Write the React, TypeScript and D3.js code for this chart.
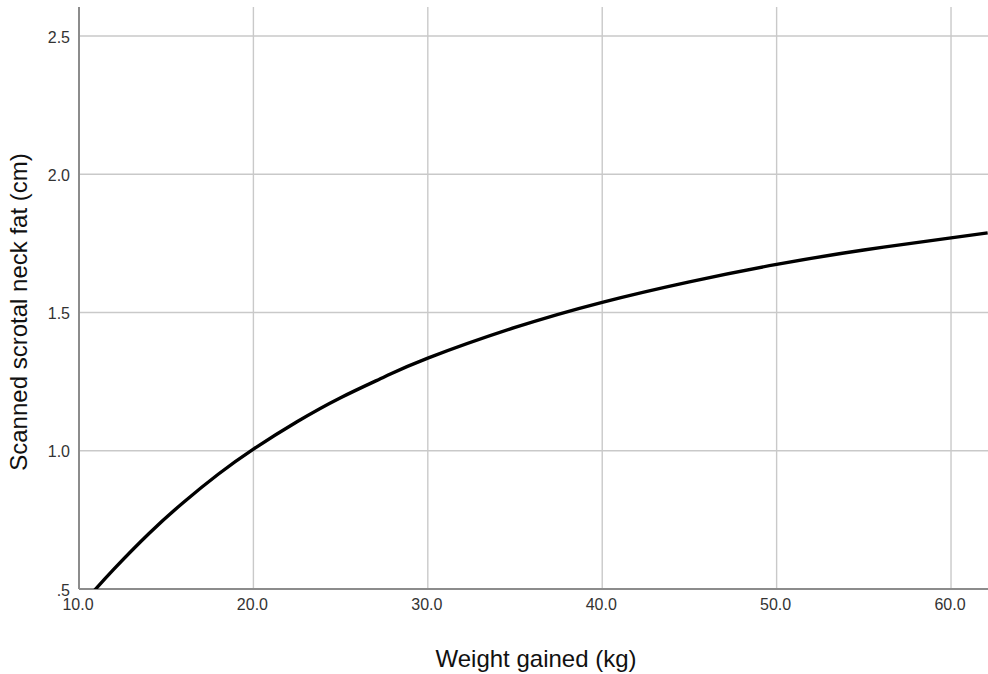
import React from "react";
import * as d3 from "d3";

// Fitted curve read at a set of weight-gain values
const weightGained = [10.9, 12, 14, 16, 18, 20, 22.5, 25, 27.5, 30, 35, 40, 45, 50, 55, 60, 62.1];
const neckFat = [0.496, 0.572, 0.7, 0.814, 0.916, 1.006, 1.105, 1.192, 1.267, 1.335, 1.446, 1.537, 1.611, 1.674, 1.726, 1.77, 1.788];

const xTicks = [10, 20, 30, 40, 50, 60];
const yTicks = [0.5, 1.0, 1.5, 2.0, 2.5];

const xLabel = "Weight gained (kg)";
const yLabel = "Scanned scrotal neck fat (cm)";

const W = 988;
const H = 674;
const left = 79;
const right = 988;
const top = 7;
const bottom = 589;

const FONT = "'Liberation Sans', Arial, sans-serif";

const fmtY = (v: number) => (v < 1 ? d3.format(".1f")(v).replace(/^0/, "") : d3.format(".1f")(v));
const fmtX = d3.format(".1f");

export default function App() {
  const x = d3.scaleLinear().domain([10, 62.12]).range([left, right]);
  const y = d3.scaleLinear().domain([0.5, 2.605]).range([bottom, top]);

  const pts: [number, number][] = weightGained.map((w, i) => [w, neckFat[i]]);
  const line = d3
    .line<[number, number]>()
    .x((d) => x(d[0]))
    .y((d) => y(d[1]))
    .curve(d3.curveNatural);

  return (
    <svg
      width={W}
      height={H}
      style={{ position: "absolute", left: 0, top: 0, background: "#fff" }}
      fontFamily={FONT}
    >
      <defs>
        <clipPath id="plot-clip">
          <rect x={left} y={top} width={right - left} height={bottom - top} />
        </clipPath>
      </defs>
      <rect width={W} height={H} fill="#fff" />
      {/* grid */}
      {xTicks.slice(1).map((t) => (
        <line key={"gx" + t} x1={x(t)} x2={x(t)} y1={top} y2={bottom} stroke="#c9c9c9" strokeWidth={1.4} />
      ))}
      {yTicks.slice(1).map((t) => (
        <line key={"gy" + t} x1={left} x2={right} y1={y(t)} y2={y(t)} stroke="#c9c9c9" strokeWidth={1.4} />
      ))}
      {/* axes */}
      <line x1={left} x2={left} y1={top} y2={bottom} stroke="#8c8c8c" strokeWidth={2} />
      <line x1={left} x2={right} y1={bottom} y2={bottom} stroke="#8c8c8c" strokeWidth={2} />

      {/* curve */}
      <path d={line(pts) || ""} fill="none" stroke="#000" strokeWidth={3.4} clipPath="url(#plot-clip)" />

      {/* tick labels */}
      {yTicks.map((t) => (
        <text key={"ty" + t} x={70} y={y(t) + 2.5} textAnchor="end" dominantBaseline="middle" fontSize={16} fill="#333">
          {fmtY(t)}
        </text>
      ))}
      {xTicks.map((t) => (
        <text key={"tx" + t} x={x(t) - 1} y={606} textAnchor="middle" dominantBaseline="middle" fontSize={16} fill="#333">
          {fmtX(t)}
        </text>
      ))}

      {/* axis titles */}
      <text x={536} y={661} textAnchor="middle" dominantBaseline="middle" fontSize={24} fill="#111">
        {xLabel}
      </text>
      <text
        transform={`translate(21, 312) rotate(-90)`}
        textAnchor="middle"
        dominantBaseline="middle"
        fontSize={24}
        fill="#111"
      >
        {yLabel}
      </text>
    </svg>
  );
}
